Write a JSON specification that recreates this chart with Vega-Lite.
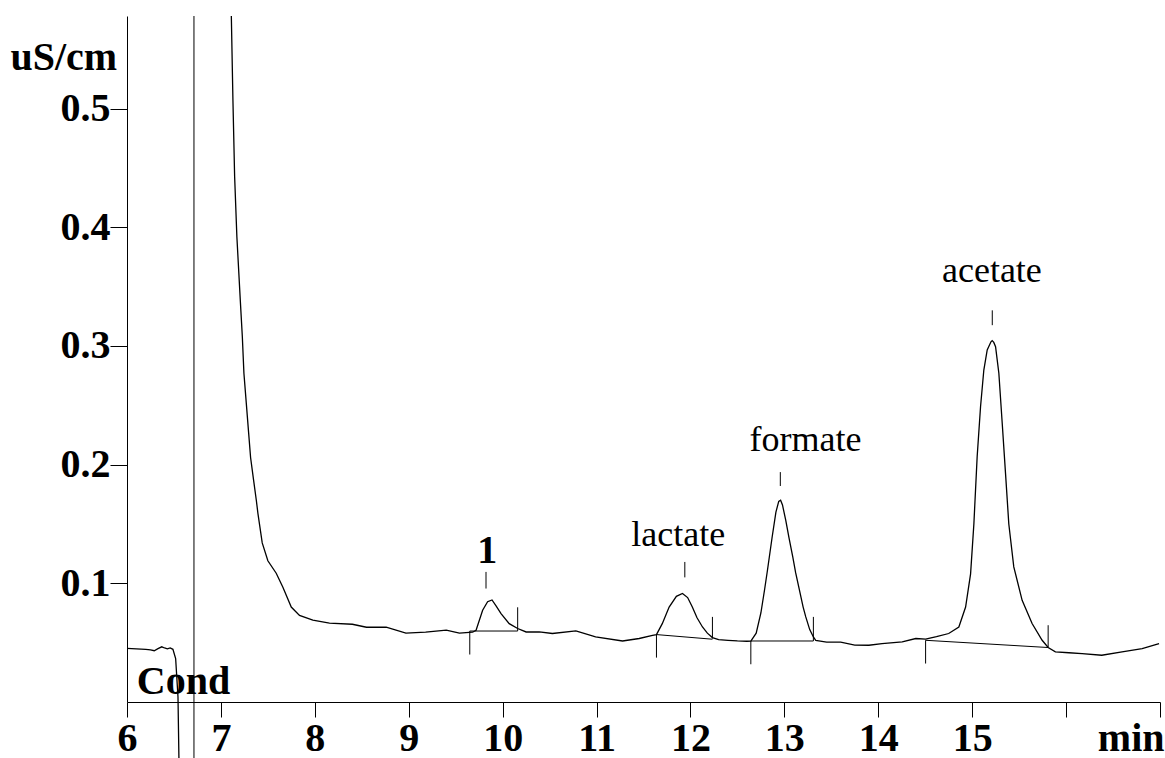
{
  "$schema": "https://vega.github.io/schema/vega-lite/v6.json",
  "width": 1033,
  "height": 686,
  "autosize": {"type": "none"},
  "padding": {"left": 127, "top": 16, "right": 5, "bottom": 56},
  "background": "white",
  "config": {"view": {"stroke": null}, "font": "Liberation Serif"},
  "datasets": {
    "trace": [
      {"t": 6.0, "v": 0.0452, "seg": "a"}, {"t": 6.05, "v": 0.045, "seg": "a"}, {"t": 6.1, "v": 0.0448, "seg": "a"},
      {"t": 6.15, "v": 0.0446, "seg": "a"}, {"t": 6.2, "v": 0.0444, "seg": "a"}, {"t": 6.25, "v": 0.044, "seg": "a"},
      {"t": 6.29, "v": 0.0432, "seg": "a"}, {"t": 6.33, "v": 0.045, "seg": "a"}, {"t": 6.37, "v": 0.0465, "seg": "a"},
      {"t": 6.4, "v": 0.0455, "seg": "a"}, {"t": 6.43, "v": 0.0448, "seg": "a"}, {"t": 6.46, "v": 0.0455, "seg": "a"},
      {"t": 6.489, "v": 0.0444, "seg": "a"}, {"t": 6.518, "v": 0.0366, "seg": "a"}, {"t": 6.543, "v": 0.0042, "seg": "a"},
      {"t": 6.553, "v": -0.048, "seg": "a"},
      {"t": 7.111, "v": 0.578, "seg": "b"}, {"t": 7.128, "v": 0.507, "seg": "b"}, {"t": 7.146, "v": 0.443, "seg": "b"},
      {"t": 7.17, "v": 0.392, "seg": "b"}, {"t": 7.206, "v": 0.339, "seg": "b"}, {"t": 7.228, "v": 0.308, "seg": "b"},
      {"t": 7.245, "v": 0.277, "seg": "b"}, {"t": 7.27, "v": 0.252, "seg": "b"}, {"t": 7.295, "v": 0.227, "seg": "b"},
      {"t": 7.316, "v": 0.206, "seg": "b"}, {"t": 7.348, "v": 0.187, "seg": "b"}, {"t": 7.377, "v": 0.17, "seg": "b"},
      {"t": 7.394, "v": 0.159, "seg": "b"}, {"t": 7.44, "v": 0.134, "seg": "b"}, {"t": 7.5, "v": 0.119, "seg": "b"},
      {"t": 7.589, "v": 0.1085, "seg": "b"}, {"t": 7.66, "v": 0.0967, "seg": "b"}, {"t": 7.749, "v": 0.08, "seg": "b"},
      {"t": 7.837, "v": 0.073, "seg": "b"}, {"t": 7.979, "v": 0.0689, "seg": "b"}, {"t": 8.156, "v": 0.0664, "seg": "b"},
      {"t": 8.4, "v": 0.0655, "seg": "b"}, {"t": 8.55, "v": 0.063, "seg": "b"}, {"t": 8.76, "v": 0.063, "seg": "b"},
      {"t": 8.97, "v": 0.058, "seg": "b"}, {"t": 9.18, "v": 0.0588, "seg": "b"}, {"t": 9.4, "v": 0.0605, "seg": "b"},
      {"t": 9.54, "v": 0.058, "seg": "b"}, {"t": 9.68, "v": 0.0588, "seg": "b"}, {"t": 9.717, "v": 0.0605, "seg": "b"},
      {"t": 9.787, "v": 0.0773, "seg": "b"}, {"t": 9.84, "v": 0.0845, "seg": "b"}, {"t": 9.887, "v": 0.086, "seg": "b"},
      {"t": 9.93, "v": 0.081, "seg": "b"}, {"t": 9.983, "v": 0.0745, "seg": "b"}, {"t": 10.07, "v": 0.066, "seg": "b"},
      {"t": 10.16, "v": 0.0619, "seg": "b"}, {"t": 10.25, "v": 0.059, "seg": "b"}, {"t": 10.39, "v": 0.059, "seg": "b"},
      {"t": 10.53, "v": 0.0577, "seg": "b"}, {"t": 10.78, "v": 0.0599, "seg": "b"}, {"t": 10.99, "v": 0.0548, "seg": "b"},
      {"t": 11.277, "v": 0.0514, "seg": "b"}, {"t": 11.454, "v": 0.0535, "seg": "b"}, {"t": 11.596, "v": 0.0562, "seg": "b"},
      {"t": 11.638, "v": 0.0568, "seg": "b"}, {"t": 11.7, "v": 0.066, "seg": "b"}, {"t": 11.773, "v": 0.08, "seg": "b"},
      {"t": 11.85, "v": 0.089, "seg": "b"}, {"t": 11.915, "v": 0.0914, "seg": "b"}, {"t": 11.97, "v": 0.088, "seg": "b"},
      {"t": 12.02, "v": 0.08, "seg": "b"}, {"t": 12.07, "v": 0.071, "seg": "b"}, {"t": 12.128, "v": 0.0632, "seg": "b"},
      {"t": 12.18, "v": 0.058, "seg": "b"}, {"t": 12.234, "v": 0.0543, "seg": "b"}, {"t": 12.3, "v": 0.0525, "seg": "b"},
      {"t": 12.4, "v": 0.052, "seg": "b"}, {"t": 12.5, "v": 0.0515, "seg": "b"}, {"t": 12.6, "v": 0.0512, "seg": "b"},
      {"t": 12.643, "v": 0.0514, "seg": "b"}, {"t": 12.7, "v": 0.058, "seg": "b"}, {"t": 12.75, "v": 0.075, "seg": "b"},
      {"t": 12.79, "v": 0.095, "seg": "b"}, {"t": 12.82, "v": 0.111, "seg": "b"}, {"t": 12.87, "v": 0.139, "seg": "b"},
      {"t": 12.91, "v": 0.16, "seg": "b"}, {"t": 12.94, "v": 0.169, "seg": "b"}, {"t": 12.96, "v": 0.17, "seg": "b"},
      {"t": 12.98, "v": 0.166, "seg": "b"}, {"t": 13.015, "v": 0.153, "seg": "b"}, {"t": 13.05, "v": 0.138, "seg": "b"},
      {"t": 13.09, "v": 0.122, "seg": "b"}, {"t": 13.12, "v": 0.109, "seg": "b"}, {"t": 13.156, "v": 0.096, "seg": "b"},
      {"t": 13.2, "v": 0.08, "seg": "b"},
      {"t": 13.228, "v": 0.0717, "seg": "b"}, {"t": 13.27, "v": 0.061, "seg": "b"}, {"t": 13.309, "v": 0.0548, "seg": "b"},
      {"t": 13.334, "v": 0.052, "seg": "b"}, {"t": 13.45, "v": 0.0505, "seg": "b"}, {"t": 13.6, "v": 0.0505, "seg": "b"},
      {"t": 13.75, "v": 0.048, "seg": "b"}, {"t": 13.9, "v": 0.0478, "seg": "b"}, {"t": 14.04, "v": 0.0492, "seg": "b"},
      {"t": 14.255, "v": 0.0506, "seg": "b"}, {"t": 14.4, "v": 0.0535, "seg": "b"}, {"t": 14.504, "v": 0.053, "seg": "b"},
      {"t": 14.62, "v": 0.055, "seg": "b"}, {"t": 14.75, "v": 0.0577, "seg": "b"}, {"t": 14.858, "v": 0.0632, "seg": "b"},
      {"t": 14.93, "v": 0.08, "seg": "b"}, {"t": 14.983, "v": 0.108, "seg": "b"}, {"t": 15.018, "v": 0.15, "seg": "b"},
      {"t": 15.053, "v": 0.2066, "seg": "b"}, {"t": 15.089, "v": 0.2487, "seg": "b"}, {"t": 15.124, "v": 0.2797, "seg": "b"},
      {"t": 15.16, "v": 0.2966, "seg": "b"}, {"t": 15.2, "v": 0.3035, "seg": "b"}, {"t": 15.213, "v": 0.3045, "seg": "b"},
      {"t": 15.23, "v": 0.303, "seg": "b"}, {"t": 15.249, "v": 0.2993, "seg": "b"}, {"t": 15.284, "v": 0.277, "seg": "b"},
      {"t": 15.32, "v": 0.2347, "seg": "b"}, {"t": 15.355, "v": 0.1926, "seg": "b"}, {"t": 15.39, "v": 0.15, "seg": "b"},
      {"t": 15.443, "v": 0.1138, "seg": "b"}, {"t": 15.532, "v": 0.0857, "seg": "b"}, {"t": 15.638, "v": 0.0661, "seg": "b"},
      {"t": 15.745, "v": 0.052, "seg": "b"}, {"t": 15.809, "v": 0.0459, "seg": "b"}, {"t": 15.886, "v": 0.0422, "seg": "b"},
      {"t": 16.03, "v": 0.0415, "seg": "b"}, {"t": 16.17, "v": 0.0408, "seg": "b"}, {"t": 16.38, "v": 0.0394, "seg": "b"},
      {"t": 16.596, "v": 0.0422, "seg": "b"}, {"t": 16.81, "v": 0.045, "seg": "b"}, {"t": 16.99, "v": 0.0492, "seg": "b"}
    ],
    "rules": [
      {"t": 6.713, "v": -0.048, "t2": 6.713, "v2": 0.578},
      {"t": 9.65, "v": 0.0598, "t2": 10.16, "v2": 0.0598},
      {"t": 11.638, "v": 0.0568, "t2": 12.234, "v2": 0.0529},
      {"t": 12.643, "v": 0.0514, "t2": 13.309, "v2": 0.0514},
      {"t": 14.504, "v": 0.052, "t2": 15.809, "v2": 0.0459},
      {"t": 9.65, "v": 0.0598, "t2": 9.65, "v2": 0.04},
      {"t": 10.16, "v": 0.0798, "t2": 10.16, "v2": 0.0598},
      {"t": 11.638, "v": 0.0568, "t2": 11.638, "v2": 0.0374},
      {"t": 12.234, "v": 0.0717, "t2": 12.234, "v2": 0.0535},
      {"t": 12.643, "v": 0.0514, "t2": 12.643, "v2": 0.0318},
      {"t": 13.309, "v": 0.0717, "t2": 13.309, "v2": 0.0514},
      {"t": 14.504, "v": 0.052, "t2": 14.504, "v2": 0.0324},
      {"t": 15.809, "v": 0.0647, "t2": 15.809, "v2": 0.0459},
      {"t": 9.823, "v": 0.0956, "t2": 9.823, "v2": 0.1096},
      {"t": 11.94, "v": 0.105, "t2": 11.94, "v2": 0.118},
      {"t": 12.957, "v": 0.182, "t2": 12.957, "v2": 0.1937},
      {"t": 15.214, "v": 0.3175, "t2": 15.214, "v2": 0.33}
    ],
    "labels": [
      {"name": "1", "t": 9.837, "v": 0.117, "kind": "bold"},
      {"name": "lactate", "t": 11.869, "v": 0.1313, "kind": "regular"},
      {"name": "formate", "t": 13.226, "v": 0.2112, "kind": "regular"},
      {"name": "acetate", "t": 15.21, "v": 0.3539, "kind": "regular"},
      {"name": "Cond", "t": 6.104, "v": 0.0071, "kind": "corner"}
    ]
  },
  "layer": [
    {
      "data": {"name": "trace"},
      "mark": {"type": "line", "color": "black", "strokeWidth": 1.3, "clip": false},
      "encoding": {
        "x": {
          "field": "t", "type": "quantitative", "title": null,
          "scale": {"domain": [6, 17], "nice": false, "zero": false},
          "axis": {
            "values": [6, 7, 8, 9, 10, 11, 12, 13, 14, 15, 16, 17],
            "format": "d",
            "labelExpr": "datum.value == 16 ? '' : datum.value == 17 ? 'min' : datum.label",
            "labelFont": "Liberation Serif", "labelFontWeight": "bold", "labelFontSize": 40, "labelColor": "black",
            "labelAlign": {"condition": {"test": "datum.value == 17", "value": "right"}, "value": "center"},
            "labelOffset": {"condition": {"test": "datum.value == 17", "value": 4}, "value": 0},
            "labelBaseline": "top", "labelPadding": 1,
            "labelOverlap": false, "labelBound": false, "labelFlush": false,
            "tickSize": 15, "tickColor": "black", "domainColor": "black", "tickWidth": 1, "domainWidth": 1,
            "grid": false
          }
        },
        "y": {
          "field": "v", "type": "quantitative", "title": "uS/cm",
          "scale": {"domain": [0, 0.578], "nice": false, "zero": false},
          "axis": {
            "titleAngle": 0, "titleAlign": "left", "titleBaseline": "alphabetic",
            "titleX": -117, "titleY": 53,
            "titleFont": "Liberation Serif", "titleFontSize": 40, "titleFontWeight": "bold", "titleColor": "black",
            "values": [0.1, 0.2, 0.3, 0.4, 0.5],
            "format": ".1f",
            "labelFont": "Liberation Serif", "labelFontWeight": "bold", "labelFontSize": 40, "labelColor": "black",
            "labelPadding": 0,
            "tickSize": 17, "tickColor": "black", "domainColor": "black", "tickWidth": 1, "domainWidth": 1,
            "grid": false
          }
        },
        "detail": {"field": "seg", "type": "nominal"}
      }
    },
    {
      "data": {"name": "rules"},
      "mark": {"type": "rule", "color": "black", "strokeWidth": 1, "clip": false},
      "encoding": {
        "x": {"field": "t", "type": "quantitative", "title": null},
        "y": {"field": "v", "type": "quantitative", "title": "uS/cm"},
        "x2": {"field": "t2"},
        "y2": {"field": "v2"}
      }
    },
    {
      "data": {"name": "labels"},
      "transform": [{"filter": "datum.kind == 'regular'"}],
      "mark": {"type": "text", "font": "Liberation Serif", "fontSize": 36, "align": "center", "baseline": "alphabetic", "color": "black", "clip": false},
      "encoding": {
        "x": {"field": "t", "type": "quantitative", "title": null},
        "y": {"field": "v", "type": "quantitative", "title": "uS/cm"},
        "text": {"field": "name"}
      }
    },
    {
      "data": {"name": "labels"},
      "transform": [{"filter": "datum.kind == 'bold'"}],
      "mark": {"type": "text", "font": "Liberation Serif", "fontSize": 40, "fontWeight": "bold", "align": "center", "baseline": "alphabetic", "color": "black", "clip": false},
      "encoding": {
        "x": {"field": "t", "type": "quantitative", "title": null},
        "y": {"field": "v", "type": "quantitative", "title": "uS/cm"},
        "text": {"field": "name"}
      }
    },
    {
      "data": {"name": "labels"},
      "transform": [{"filter": "datum.kind == 'corner'"}],
      "mark": {"type": "text", "font": "Liberation Serif", "fontSize": 40, "fontWeight": "bold", "align": "left", "baseline": "alphabetic", "color": "black", "clip": false},
      "encoding": {
        "x": {"field": "t", "type": "quantitative", "title": null},
        "y": {"field": "v", "type": "quantitative", "title": "uS/cm"},
        "text": {"field": "name"}
      }
    }
  ]
}
